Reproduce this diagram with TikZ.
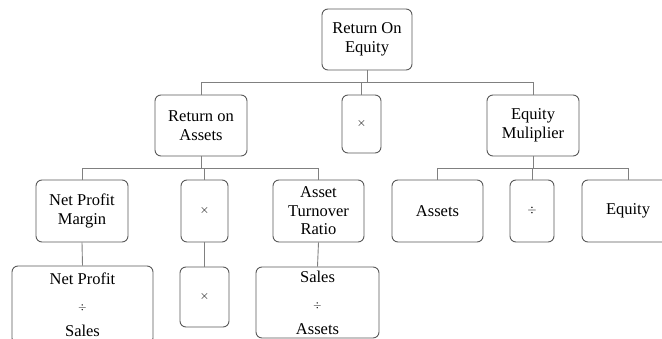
\documentclass[tikz,border=0pt]{standalone}
\usepackage{fontspec}
\setmainfont{Liberation Serif}
\tikzset{box/.style={draw=black!65, line width=0.9pt, rounded corners=6pt, inner sep=0pt,
		align=center, font=\fontsize{16.5}{18.5}\selectfont},
	tallbox/.style={box, font=\fontsize{16.5}{26}\selectfont},
	link/.style={draw=black!50, line width=0.9pt}}

\begin{document}
\begin{tikzpicture}[x=1pt, y=-1pt]
	
	\useasboundingbox (0,0) rectangle (662,339);
	% top
	\node[box, minimum width=90pt, minimum height=61pt] (roe) at (367, 39.5) {Return On\\Equity};
	% second row
	\node[box, minimum width=92pt, minimum height=61pt] (roa) at (201, 125.5) {Return on\\Assets};
	\node[box, minimum width=39pt, minimum height=58pt] (times1) at (361.5, 124) {\fontsize{12}{13}\selectfont$\times$};
	\node[box, minimum width=92pt, minimum height=61pt] (em) at (533, 125.5) {Equity\\Muliplier};
	% third row
	\node[box, minimum width=92pt, minimum height=62pt] (npm) at (82, 211) {Net Profit\\Margin};
	\node[box, minimum width=47pt, minimum height=62pt] (times2) at (204.5, 211) {\fontsize{12}{13}\selectfont$\times$};
	\node[box, minimum width=91pt, minimum height=62pt] (atr) at (318.5, 211) {Asset\\Turnover\\Ratio};
	\node[box, minimum width=91pt, minimum height=62pt] (assets) at (437.5, 211) {Assets};
	\node[box, minimum width=44pt, minimum height=62pt] (div) at (532, 211) {\fontsize{12}{13}\selectfont$\div$};
	\node[box, minimum width=92pt, minimum height=62pt] (equity) at (628, 211) {Equity};
	% bottom row
	\node[tallbox, minimum width=141pt, minimum height=78pt] (npsales) at (82.5, 305) {Net Profit\\{\fontsize{11}{26}\selectfont$\div$}\\Sales};
	\node[box, minimum width=49pt, minimum height=60pt] (times3) at (204.5, 297) {\fontsize{12}{13}\selectfont$\times$};
	\node[tallbox, minimum width=123pt, minimum height=71pt] (salesassets) at (317.5, 302.5) {Sales\\{\fontsize{11}{26}\selectfont$\div$}\\Assets};
	
	\coordinate (busA) at (0, 82);
	\coordinate (busB) at (0, 168);
	
	% links
	\draw[link] (roe.south) -- (roe.south |- busA);
	\draw[link] (roa.north) |- (em.north |- busA) -- (em.north);
	\draw[link] (times1.north) -- (times1.north |- busA);
	
	\draw[link] (roa.south) -- (roa.south |- busB);
	\draw[link] (npm.north) |- (atr.north |- busB) -- (atr.north);
	\draw[link] (times2.north) -- (times2.north |- busB);
	
	\draw[link] (em.south) -- (em.south |- busB);
	\draw[link] (assets.north) |- (equity.north |- busB) -- (equity.north);
	\draw[link] (div.north) -- (div.north |- busB);
	
	\draw[link] (npm.south) -- (npsales.north);
	\draw[link] (times2.south) -- (times3.north);
	\draw[link] (atr.south) -- (salesassets.north);
\end{tikzpicture}
\end{document}
